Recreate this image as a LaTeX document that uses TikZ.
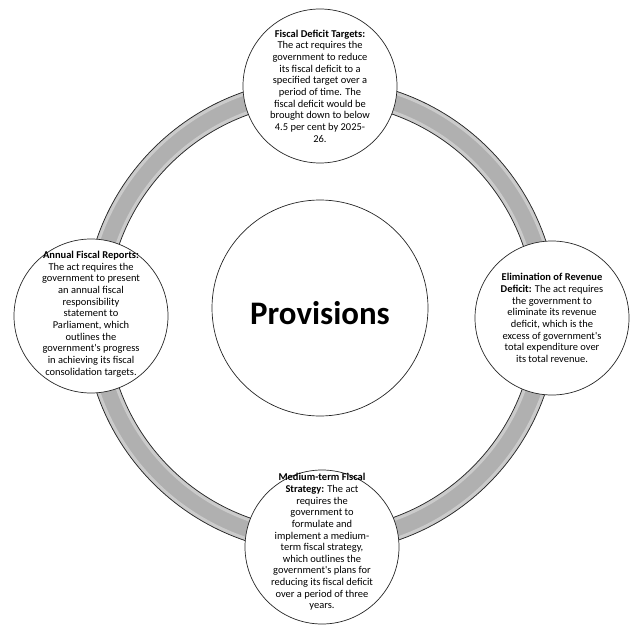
\documentclass[tikz,border=0pt]{standalone}
\usepackage{fontspec}
\setmainfont{Carlito}[Ligatures=TeXOff]
\usepackage{tikz}
\definecolor{ringgray}{gray}{0.69}
\tikzstyle{bubble}=[shape=circle,draw=black!85,fill=white,line width=0.7bp,minimum size=154bp,inner sep=0pt]
\tikzstyle{hub}=[shape=circle,draw=black!85,fill=white,line width=0.7bp,minimum size=216bp,inner sep=0pt]
\tikzstyle{hubtext}=[inner sep=0pt,font=\fontsize{33}{36}\selectfont\bfseries]
\tikzstyle{bubbletext}=[align=center,inner sep=0pt,font=\fontsize{10.5}{11.7}\selectfont]
\tikzstyle{ringedge}=[draw=black!85,line width=0.7bp]

\begin{document}
\begin{tikzpicture}[x=1bp,y=-1bp]
\useasboundingbox (0,0) rectangle (637,631);
% ring
\fill[ringgray,even odd rule] (321,316) circle (237) (321,316) circle (214);
\draw[white,opacity=0.35,line width=3bp] (321,316) circle (234.8) (321,316) circle (216.2);
\draw[ringedge] (321,316) circle (237) (321,316) circle (214);
% centre
\node[hub] (hub) at (320,308) {};
\node[hubtext] (hublabel) at (320,313) {Provisions};
% outer circles
\node[bubble] (top) at (320,86) {};
\node[bubbletext] (toptext) at (top) {\textbf{Fiscal Deficit Targets:}\\ The act requires the\\ government to reduce\\ its fiscal deficit to a\\ specified target over a\\ period of time. The\\ fiscal deficit would be\\ brought down to below\\ 4.5 per cent by 2025-\\ 26.};
\node[bubble] (right) at (552,318) {};
\node[bubbletext] (righttext) at (right) {\textbf{Elimination of Revenue}\\ \textbf{Deficit:} The act requires\\ the government to\\ eliminate its revenue\\ deficit, which is the\\ excess of government's\\ total expenditure over\\ its total revenue.};
\node[bubble] (bottom) at (322,547) {};
\node[bubbletext] (bottomtext) at (322,542) {\textbf{Medium-term Fiscal}\\ \textbf{Strategy:} The act\\ requires the\\ government to\\ formulate and\\ implement a medium-\\ term fiscal strategy,\\ which outlines the\\ government's plans for\\ reducing its fiscal deficit\\ over a period of three\\ years.};
\node[bubble] (left) at (91,316) {};
\node[bubbletext] (lefttext) at (91,314) {\textbf{Annual Fiscal Reports:}\\ The act requires the\\ government to present\\ an annual fiscal\\ responsibility\\ statement to\\ Parliament, which\\ outlines the\\ government's progress\\ in achieving its fiscal\\ consolidation targets.};

\end{tikzpicture}
\end{document}
